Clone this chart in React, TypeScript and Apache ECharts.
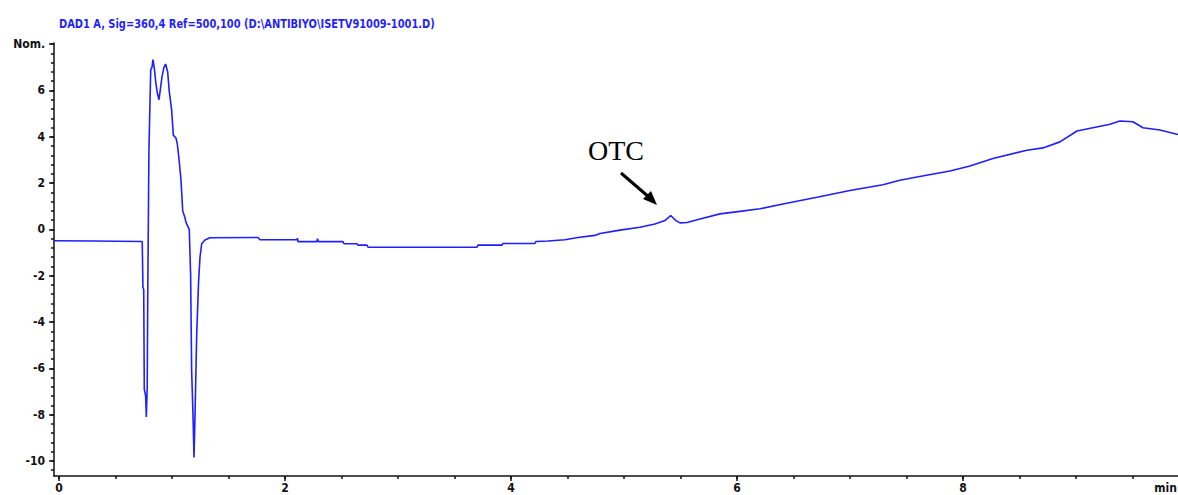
import React, { useEffect, useRef } from "react";
import * as echarts from "echarts";

// Retention time (min) and detector signal (mAU, "Nom.")
const timeMin: number[] = [
  -0.044, 0.3, 0.737, 0.743, 0.75, 0.755, 0.767, 0.773, 0.781, 0.785, 0.796, 0.812, 0.823, 0.832,
  0.843, 0.858, 0.87, 0.885, 0.896, 0.912, 0.929, 0.944, 0.962, 0.976, 0.997, 1.012, 1.035, 1.047,
  1.062, 1.08, 1.095, 1.115, 1.124, 1.153, 1.165, 1.174, 1.186, 1.195, 1.204, 1.219, 1.236, 1.248,
  1.263, 1.292, 1.336, 1.761, 1.779, 2.106, 2.11, 2.115, 2.283, 2.288, 2.296, 2.513, 2.522, 2.637,
  2.646, 2.726, 2.735, 3.699, 3.708, 3.92, 3.929, 4.212, 4.221, 4.327, 4.478, 4.593, 4.743, 4.788,
  4.965, 5.142, 5.274, 5.363, 5.413, 5.46, 5.496, 5.558, 5.673, 5.85, 6.027, 6.204, 6.407, 6.708,
  7.0, 7.292, 7.442, 7.593, 7.885, 8.062, 8.265, 8.566, 8.708, 8.858, 9.009, 9.15, 9.301, 9.389,
  9.504, 9.593, 9.743, 9.903,
];
const signal: number[] = [
  -0.49, -0.5, -0.52, -2.5, -2.6, -6.9, -7.2, -8.1, -6.8, -3.3, 3.4, 6.9, 7.0, 7.33,
  7.0, 6.3, 5.9, 5.6, 6.0, 6.6, 7.0, 7.14, 6.8, 5.96, 5.16, 4.07, 3.95, 3.7,
  3.06, 2.11, 0.81, 0.5, 0.3, 0.0, -1.94, -6.07, -8.0, -9.85, -8.0, -4.5, -2.2, -1.2,
  -0.62, -0.46, -0.36, -0.35, -0.45, -0.45, -0.38, -0.53, -0.53, -0.4, -0.53, -0.53, -0.62, -0.62,
  -0.68, -0.68, -0.77, -0.77, -0.68, -0.68, -0.61, -0.61, -0.52, -0.5, -0.45, -0.35, -0.26, -0.18,
  -0.03, 0.09, 0.23, 0.38, 0.6, 0.38, 0.28, 0.3, 0.45, 0.67, 0.78, 0.89, 1.1, 1.39,
  1.68, 1.93, 2.12, 2.26, 2.52, 2.74, 3.06, 3.42, 3.52, 3.78, 4.25, 4.39, 4.54, 4.68,
  4.65, 4.39, 4.29, 4.1,
];

const xLabelTicks: number[] = [0, 2, 4, 6, 8];
const yMajorTicks: number[] = [-10, -8, -6, -4, -2, 0, 2, 4, 6, 8];
const xMinorTicks: number[] = [];
for (let i = 0; i <= 19; i++) xMinorTicks.push(i * 0.5);
const yMinorTicks: number[] = [];
for (let i = -26; i <= 20; i++) yMinorTicks.push(Math.round(i * 0.4 * 10) / 10);

const title = "DAD1 A, Sig=360,4 Ref=500,100 (D:\\ANTIBIYO\\ISETV91009-1001.D)";
const peakLabel = "OTC";
const xUnit = "min";

const X_MIN = -0.044;
const X_MAX = 9.903;
const Y_MIN = -10.65;
const Y_MAX = 8.05;

const FONT = "'DejaVu Sans Condensed', 'Liberation Sans Narrow', 'Liberation Sans', Arial, sans-serif";

export default function App() {
  const ref = useRef<HTMLDivElement>(null);
  useEffect(() => {
    if (!ref.current) return;
    const chart = echarts.init(ref.current, null, { renderer: "svg" });
    const data = timeMin.map((t, i) => [t, signal[i]]);
    const axisLine = { show: true, onZero: false, lineStyle: { color: "#111", width: 1.5 } };
    chart.setOption({
      animation: false,
      backgroundColor: "#fff",
      grid: { left: 54, top: 43, right: 0, bottom: 19, containLabel: false },
      xAxis: [
        {
          type: "value",
          min: X_MIN,
          max: X_MAX,
          axisLine,
          splitLine: { show: false },
          axisTick: { show: true, customValues: xLabelTicks, length: 5, lineStyle: { color: "#111", width: 1.5 } },
          axisLabel: {
            show: true,
            customValues: xLabelTicks,
            margin: 6,
            color: "#111",
            fontFamily: FONT,
            fontSize: 12,
            fontWeight: "bold",
          },
        },
        {
          type: "value",
          min: X_MIN,
          max: X_MAX,
          position: "bottom",
          axisLine: { show: false, onZero: false },
          splitLine: { show: false },
          axisTick: { show: true, customValues: xMinorTicks, length: 3, lineStyle: { color: "#111", width: 1.5 } },
          axisLabel: { show: false },
        },
      ],
      yAxis: [
        {
          type: "value",
          min: Y_MIN,
          max: Y_MAX,
          axisLine,
          splitLine: { show: false },
          axisTick: { show: true, customValues: yMajorTicks, length: 5, lineStyle: { color: "#111", width: 1.5 } },
          axisLabel: {
            show: true,
            customValues: yMajorTicks,
            margin: 9,
            color: "#111",
            fontFamily: FONT,
            fontSize: 12,
            fontWeight: "bold",
            formatter: (v: number) => (v === 8 ? "Nom." : String(v)),
          },
        },
        {
          type: "value",
          min: Y_MIN,
          max: Y_MAX,
          position: "left",
          axisLine: { show: false, onZero: false },
          splitLine: { show: false },
          axisTick: { show: true, customValues: yMinorTicks, length: 3, lineStyle: { color: "#111", width: 1.5 } },
          axisLabel: { show: false },
        },
      ],
      series: [
        {
          type: "line",
          xAxisIndex: 0,
          yAxisIndex: 0,
          data,
          showSymbol: false,
          symbol: "none",
          lineStyle: { color: "#1f1fff", width: 1.6 },
          clip: true,
        },
      ],
      graphic: [
        {
          type: "text",
          x: 59,
          y: 17,
          scaleX: 0.845,
          style: {
            text: title,
            fill: "#1f1fff",
            font: `bold 13px ${FONT}`,
          },
        },
        {
          type: "text",
          x: 1177,
          y: 482,
          style: { text: xUnit, fill: "#111", font: `bold 12px ${FONT}`, align: "right" },
        },
        {
          type: "text",
          x: 588,
          y: 136,
          style: { text: peakLabel, fill: "#000", font: "28px 'Liberation Serif', 'DejaVu Serif', serif" },
        },
        {
          type: "line",
          shape: { x1: 621, y1: 173, x2: 650, y2: 198 },
          style: { stroke: "#000", lineWidth: 3 },
        },
        {
          type: "polygon",
          shape: { points: [[657, 205], [643, 199], [651, 191]] },
          style: { fill: "#000" },
        },
      ],
    });
    return () => chart.dispose();
  }, []);
  return (
    <div
      ref={ref}
      style={{ position: "fixed", left: 0, top: 0, width: 1178, height: 495, background: "#fff" }}
    />
  );
}
